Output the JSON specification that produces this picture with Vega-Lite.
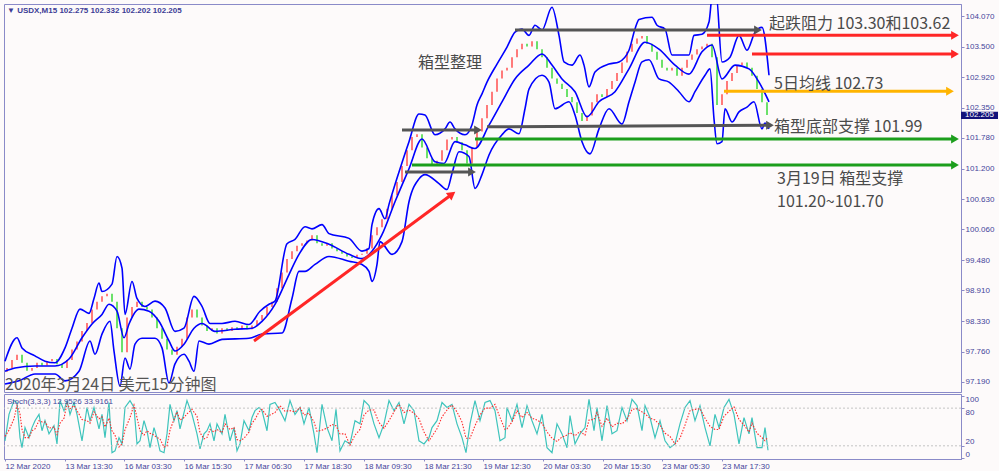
{
"$schema":"https://vega.github.io/schema/vega-lite/v6.json",
"background":"#fdfafa",
"padding":{"left":2,"top":3,"right":0,"bottom":0},
"spacing":2,
"bounds":"flush",
"config":{"view":{"stroke":"#8a8ac8","strokeWidth":1},"axis":{"labelFont":"Liberation Sans","labelFontSize":8,"labelColor":"#44449a","tickColor":"#8a8ac8","domainColor":"#8a8ac8","grid":false}},
"datasets":{
"candles":[{"b":5,"o":97.38,"c":97.45},{"b":10,"o":97.45,"c":97.6},{"b":15,"o":97.6,"c":97.7},{"b":20,"o":97.7,"c":97.55},{"b":25,"o":97.55,"c":97.4},{"b":30,"o":97.4,"c":97.45},{"b":35,"o":97.45,"c":97.55},{"b":40,"o":97.55,"c":97.5},{"b":45,"o":97.5,"c":97.58},{"b":50,"o":97.58,"c":97.62},{"b":55,"o":97.62,"c":97.52},{"b":60,"o":97.52,"c":97.45},{"b":65,"o":97.45,"c":97.6},{"b":70,"o":97.6,"c":97.8},{"b":75,"o":97.8,"c":97.95},{"b":80,"o":97.95,"c":98.15},{"b":85,"o":98.15,"c":98.3},{"b":90,"o":98.3,"c":98.55},{"b":95,"o":98.55,"c":98.7},{"b":100,"o":98.7,"c":98.8},{"b":105,"o":98.8,"c":98.85},{"b":110,"o":98.85,"c":98.7},{"b":115,"o":98.7,"c":98.2},{"b":120,"o":98.2,"c":97.75},{"b":125,"o":97.75,"c":98.4},{"b":130,"o":98.4,"c":98.6},{"b":135,"o":98.6,"c":98.7},{"b":140,"o":98.7,"c":98.6},{"b":145,"o":98.6,"c":98.55},{"b":150,"o":98.55,"c":98.4},{"b":155,"o":98.4,"c":98.2},{"b":160,"o":98.2,"c":98.0},{"b":165,"o":98.0,"c":97.8},{"b":170,"o":97.8,"c":97.7},{"b":175,"o":97.7,"c":97.85},{"b":180,"o":97.85,"c":98.0},{"b":185,"o":98.0,"c":98.4},{"b":190,"o":98.4,"c":98.55},{"b":195,"o":98.55,"c":98.4},{"b":200,"o":98.4,"c":98.25},{"b":205,"o":98.25,"c":98.15},{"b":210,"o":98.15,"c":98.2},{"b":215,"o":98.2,"c":98.1},{"b":220,"o":98.1,"c":98.2},{"b":225,"o":98.2,"c":98.15},{"b":230,"o":98.15,"c":98.22},{"b":235,"o":98.22,"c":98.18},{"b":240,"o":98.18,"c":98.25},{"b":245,"o":98.25,"c":98.18},{"b":250,"o":98.18,"c":98.25},{"b":255,"o":98.25,"c":98.35},{"b":260,"o":98.35,"c":98.45},{"b":265,"o":98.45,"c":98.6},{"b":270,"o":98.6,"c":98.7},{"b":275,"o":98.7,"c":98.95},{"b":280,"o":98.95,"c":99.25},{"b":285,"o":99.25,"c":99.5},{"b":290,"o":99.5,"c":99.65},{"b":295,"o":99.65,"c":99.75},{"b":300,"o":99.75,"c":99.8},{"b":305,"o":99.8,"c":99.85},{"b":310,"o":99.85,"c":99.95},{"b":315,"o":99.95,"c":99.8},{"b":320,"o":99.8,"c":99.75},{"b":325,"o":99.75,"c":99.8},{"b":330,"o":99.8,"c":99.7},{"b":335,"o":99.7,"c":99.65},{"b":340,"o":99.65,"c":99.6},{"b":345,"o":99.6,"c":99.55},{"b":350,"o":99.55,"c":99.52},{"b":355,"o":99.52,"c":99.58},{"b":360,"o":99.58,"c":99.6},{"b":365,"o":99.6,"c":99.7},{"b":370,"o":99.7,"c":99.95},{"b":375,"o":99.95,"c":100.1},{"b":380,"o":100.1,"c":100.25},{"b":385,"o":100.25,"c":100.45},{"b":390,"o":100.45,"c":100.7},{"b":395,"o":100.7,"c":100.95},{"b":400,"o":100.95,"c":101.25},{"b":405,"o":101.25,"c":101.55},{"b":410,"o":101.55,"c":101.8},{"b":415,"o":101.8,"c":101.85},{"b":420,"o":101.85,"c":101.6},{"b":425,"o":101.6,"c":101.4},{"b":430,"o":101.4,"c":101.25},{"b":435,"o":101.25,"c":101.35},{"b":440,"o":101.35,"c":101.55},{"b":445,"o":101.55,"c":101.75},{"b":450,"o":101.75,"c":101.8},{"b":455,"o":101.8,"c":101.7},{"b":460,"o":101.7,"c":101.55},{"b":465,"o":101.55,"c":101.3},{"b":470,"o":101.3,"c":101.6},{"b":475,"o":101.6,"c":101.9},{"b":480,"o":101.9,"c":102.15},{"b":485,"o":102.15,"c":102.4},{"b":490,"o":102.4,"c":102.65},{"b":495,"o":102.65,"c":102.9},{"b":500,"o":102.9,"c":103.05},{"b":505,"o":103.05,"c":103.1},{"b":510,"o":103.1,"c":103.3},{"b":515,"o":103.3,"c":103.45},{"b":520,"o":103.45,"c":103.55},{"b":525,"o":103.55,"c":103.5},{"b":530,"o":103.5,"c":103.6},{"b":535,"o":103.6,"c":103.45},{"b":540,"o":103.45,"c":103.3},{"b":545,"o":103.3,"c":103.1},{"b":550,"o":103.1,"c":102.9},{"b":555,"o":102.9,"c":102.8},{"b":560,"o":102.8,"c":102.7},{"b":565,"o":102.7,"c":102.55},{"b":570,"o":102.55,"c":102.45},{"b":575,"o":102.45,"c":102.25},{"b":580,"o":102.25,"c":102.1},{"b":585,"o":102.1,"c":102.2},{"b":590,"o":102.2,"c":102.45},{"b":595,"o":102.45,"c":102.6},{"b":600,"o":102.6,"c":102.55},{"b":605,"o":102.55,"c":102.7},{"b":610,"o":102.7,"c":102.85},{"b":615,"o":102.85,"c":103.0},{"b":620,"o":103.0,"c":103.2},{"b":625,"o":103.2,"c":103.4},{"b":630,"o":103.4,"c":103.55},{"b":635,"o":103.55,"c":103.65},{"b":640,"o":103.65,"c":103.7},{"b":645,"o":103.7,"c":103.55},{"b":650,"o":103.55,"c":103.4},{"b":655,"o":103.4,"c":103.25},{"b":660,"o":103.25,"c":103.1},{"b":665,"o":103.1,"c":103.05},{"b":670,"o":103.05,"c":103.1},{"b":675,"o":103.1,"c":102.95},{"b":680,"o":102.95,"c":103.1},{"b":685,"o":103.1,"c":103.25},{"b":690,"o":103.25,"c":103.35},{"b":695,"o":103.35,"c":103.45},{"b":700,"o":103.45,"c":103.5},{"b":705,"o":103.5,"c":103.55},{"b":710,"o":103.55,"c":103.3},{"b":715,"o":103.3,"c":102.4},{"b":720,"o":102.4,"c":102.6},{"b":725,"o":102.6,"c":102.85},{"b":730,"o":102.85,"c":103.0},{"b":735,"o":103.0,"c":103.15},{"b":740,"o":103.15,"c":103.2},{"b":745,"o":103.2,"c":103.1},{"b":750,"o":103.1,"c":102.95},{"b":755,"o":102.95,"c":102.7},{"b":760,"o":102.7,"c":102.45},{"b":765,"o":102.45,"c":102.21}],
"ub":[{"b":3,"p":97.58},{"b":15,"p":98.02},{"b":20,"p":97.83},{"b":33,"p":97.68},{"b":43,"p":97.58},{"b":53,"p":97.55},{"b":63,"p":97.83},{"b":70,"p":98.2},{"b":78,"p":98.56},{"b":87,"p":98.48},{"b":92,"p":98.76},{"b":97,"p":99.05},{"b":100,"p":98.89},{"b":110,"p":99.03},{"b":115,"p":99.55},{"b":120,"p":99.33},{"b":123,"p":98.46},{"b":130,"p":99.08},{"b":135,"p":98.76},{"b":143,"p":98.61},{"b":153,"p":98.71},{"b":163,"p":98.58},{"b":173,"p":98.14},{"b":182,"p":98.2},{"b":192,"p":98.8},{"b":200,"p":98.61},{"b":208,"p":98.29},{"b":220,"p":98.29},{"b":233,"p":98.33},{"b":247,"p":98.27},{"b":258,"p":98.52},{"b":267,"p":98.65},{"b":273,"p":98.71},{"b":285,"p":99.79},{"b":293,"p":99.87},{"b":303,"p":100.11},{"b":310,"p":100.07},{"b":320,"p":100.15},{"b":327,"p":99.98},{"b":347,"p":99.89},{"b":360,"p":99.65},{"b":367,"p":99.7},{"b":370,"p":100.15},{"b":377,"p":100.45},{"b":383,"p":100.26},{"b":387,"p":100.53},{"b":397,"p":101.14},{"b":407,"p":101.71},{"b":417,"p":102.23},{"b":423,"p":102.21},{"b":433,"p":101.84},{"b":443,"p":101.95},{"b":448,"p":102.08},{"b":453,"p":101.95},{"b":463,"p":101.84},{"b":470,"p":102.03},{"b":475,"p":102.4},{"b":480,"p":102.61},{"b":485,"p":102.83},{"b":495,"p":103.17},{"b":505,"p":103.49},{"b":513,"p":103.77},{"b":520,"p":103.83},{"b":527,"p":103.71},{"b":533,"p":103.9},{"b":540,"p":103.81},{"b":550,"p":104.24},{"b":557,"p":103.71},{"b":562,"p":103.21},{"b":570,"p":103.15},{"b":578,"p":103.34},{"b":582,"p":103.15},{"b":587,"p":102.74},{"b":593,"p":103.02},{"b":607,"p":103.17},{"b":617,"p":103.21},{"b":627,"p":103.43},{"b":633,"p":103.83},{"b":637,"p":104.01},{"b":650,"p":104.05},{"b":655,"p":103.9},{"b":663,"p":103.83},{"b":670,"p":103.34},{"b":687,"p":103.34},{"b":692,"p":103.71},{"b":700,"p":103.73},{"b":707,"p":103.96},{"b":710,"p":104.43},{"b":714,"p":104.52},{"b":720,"p":103.21},{"b":728,"p":103.3},{"b":737,"p":103.71},{"b":745,"p":103.43},{"b":753,"p":103.77},{"b":760,"p":103.86},{"b":767,"p":102.96}],
"mb":[{"b":3,"p":97.39},{"b":13,"p":97.45},{"b":33,"p":97.49},{"b":53,"p":97.49},{"b":67,"p":97.62},{"b":80,"p":98.02},{"b":90,"p":98.28},{"b":100,"p":98.46},{"b":107,"p":98.65},{"b":115,"p":98.52},{"b":122,"p":98.02},{"b":127,"p":98.28},{"b":137,"p":98.56},{"b":147,"p":98.52},{"b":157,"p":98.33},{"b":167,"p":97.96},{"b":173,"p":97.77},{"b":182,"p":97.9},{"b":192,"p":98.2},{"b":200,"p":98.29},{"b":213,"p":98.14},{"b":233,"p":98.18},{"b":250,"p":98.2},{"b":260,"p":98.33},{"b":273,"p":98.65},{"b":287,"p":99.21},{"b":297,"p":99.59},{"b":310,"p":99.87},{"b":327,"p":99.78},{"b":347,"p":99.59},{"b":360,"p":99.51},{"b":370,"p":99.65},{"b":380,"p":99.96},{"b":393,"p":100.58},{"b":407,"p":101.2},{"b":420,"p":101.76},{"b":433,"p":101.33},{"b":442,"p":101.3},{"b":453,"p":101.71},{"b":463,"p":101.65},{"b":473,"p":101.58},{"b":487,"p":102.02},{"b":500,"p":102.46},{"b":513,"p":102.89},{"b":527,"p":103.15},{"b":540,"p":103.36},{"b":550,"p":103.15},{"b":560,"p":102.89},{"b":573,"p":102.65},{"b":585,"p":102.18},{"b":597,"p":102.46},{"b":613,"p":102.65},{"b":627,"p":103.08},{"b":643,"p":103.58},{"b":657,"p":103.45},{"b":673,"p":103.15},{"b":687,"p":102.98},{"b":700,"p":103.4},{"b":710,"p":103.53},{"b":720,"p":102.89},{"b":733,"p":103.15},{"b":747,"p":103.08},{"b":757,"p":102.83},{"b":767,"p":102.46}],
"lb":[{"b":3,"p":97.15},{"b":17,"p":97.21},{"b":33,"p":97.34},{"b":53,"p":97.34},{"b":63,"p":97.21},{"b":77,"p":97.39},{"b":88,"p":97.96},{"b":93,"p":97.71},{"b":100,"p":98.09},{"b":108,"p":98.33},{"b":112,"p":97.77},{"b":118,"p":97.11},{"b":123,"p":97.64},{"b":128,"p":97.43},{"b":133,"p":97.9},{"b":140,"p":98.01},{"b":153,"p":98.01},{"b":160,"p":97.83},{"b":167,"p":97.17},{"b":173,"p":97.53},{"b":182,"p":97.71},{"b":187,"p":97.58},{"b":192,"p":97.39},{"b":197,"p":97.96},{"b":207,"p":97.9},{"b":220,"p":97.99},{"b":247,"p":98.01},{"b":260,"p":98.09},{"b":280,"p":98.11},{"b":290,"p":98.76},{"b":297,"p":99.27},{"b":303,"p":99.27},{"b":313,"p":99.4},{"b":327,"p":99.55},{"b":347,"p":99.46},{"b":360,"p":99.4},{"b":367,"p":99.27},{"b":370,"p":99.08},{"b":375,"p":99.4},{"b":378,"p":99.83},{"b":390,"p":99.59},{"b":400,"p":99.83},{"b":407,"p":100.58},{"b":417,"p":101.01},{"b":423,"p":101.09},{"b":437,"p":100.92},{"b":445,"p":100.81},{"b":450,"p":101.11},{"b":457,"p":101.52},{"b":467,"p":101.43},{"b":473,"p":100.83},{"b":480,"p":101.09},{"b":487,"p":101.46},{"b":500,"p":101.84},{"b":507,"p":101.95},{"b":517,"p":101.86},{"b":523,"p":102.33},{"b":527,"p":102.7},{"b":540,"p":102.96},{"b":547,"p":102.83},{"b":553,"p":102.33},{"b":567,"p":102.46},{"b":573,"p":102.21},{"b":580,"p":101.71},{"b":588,"p":101.48},{"b":597,"p":101.95},{"b":607,"p":102.33},{"b":620,"p":102.04},{"b":627,"p":102.46},{"b":633,"p":102.83},{"b":640,"p":103.21},{"b":647,"p":103.25},{"b":657,"p":102.89},{"b":667,"p":102.83},{"b":677,"p":102.65},{"b":687,"p":102.46},{"b":693,"p":102.65},{"b":703,"p":102.96},{"b":708,"p":103.08},{"b":712,"p":102.14},{"b":715,"p":101.67},{"b":720,"p":101.71},{"b":723,"p":102.33},{"b":730,"p":102.08},{"b":737,"p":102.27},{"b":745,"p":102.36},{"b":752,"p":102.46},{"b":760,"p":101.95},{"b":763,"p":102.06},{"b":767,"p":101.95}],
"arrows":[{"kind":"box","b1":513,"p1":103.81,"b2":756,"p2":103.81},{"kind":"box","b1":400,"p1":101.93,"b2":476,"p2":101.93},{"kind":"box","b1":485,"p1":101.99,"b2":768,"p2":102.02},{"kind":"box","b1":403,"p1":101.14,"b2":470,"p2":101.14},{"kind":"support","b1":473,"p1":101.76,"b2":953,"p2":101.76},{"kind":"support","b1":410,"p1":101.27,"b2":953,"p2":101.27},{"kind":"resistance","b1":705,"p1":103.71,"b2":953,"p2":103.71},{"kind":"resistance","b1":750,"p1":103.36,"b2":953,"p2":103.36},{"kind":"ma5","b1":722,"p1":102.66,"b2":948,"p2":102.66},{"kind":"trend","b1":252,"p1":97.96,"b2":450,"p2":100.72}],
"notes":[{"kind":"note","b":416,"p":103.19,"text":"箱型整理"},{"kind":"note","b":767,"p":103.92,"text":"起跌阻力 103.30和103.62"},{"kind":"note","b":772,"p":102.79,"text":"5日均线 102.73"},{"kind":"note","b":772,"p":101.99,"text":"箱型底部支撑 101.99"},{"kind":"note","b":775,"p":101.01,"text":"3月19日 箱型支撑"},{"kind":"note","b":775,"p":100.58,"text":"101.20~101.70"},{"kind":"title","b":3,"p":97.13,"text":"2020年3月24日 美元15分钟图"},{"kind":"header","b":5,"p":104.16,"text":"▼ USDX,M15  102.275 102.332 102.202 102.205"}],
"stoch":[{"b":3,"k":28,"d":35},{"b":7,"k":70,"d":45},{"b":12,"k":92,"d":63},{"b":15,"k":89,"d":84},{"b":18,"k":33,"d":71},{"b":20,"k":17,"d":46},{"b":23,"k":49,"d":33},{"b":27,"k":33,"d":33},{"b":30,"k":49,"d":44},{"b":33,"k":60,"d":47},{"b":37,"k":70,"d":60},{"b":40,"k":44,"d":58},{"b":43,"k":60,"d":58},{"b":47,"k":39,"d":48},{"b":52,"k":52,"d":50},{"b":55,"k":23,"d":38},{"b":58,"k":92,"d":56},{"b":62,"k":76,"d":64},{"b":65,"k":92,"d":87},{"b":68,"k":70,"d":79},{"b":72,"k":89,"d":84},{"b":75,"k":70,"d":76},{"b":80,"k":28,"d":62},{"b":85,"k":81,"d":60},{"b":88,"k":60,"d":56},{"b":92,"k":81,"d":74},{"b":97,"k":47,"d":63},{"b":100,"k":70,"d":66},{"b":103,"k":33,"d":50},{"b":107,"k":89,"d":64},{"b":110,"k":9,"d":44},{"b":113,"k":12,"d":37},{"b":117,"k":33,"d":18},{"b":120,"k":23,"d":23},{"b":123,"k":81,"d":46},{"b":128,"k":92,"d":65},{"b":132,"k":81,"d":85},{"b":135,"k":23,"d":65},{"b":138,"k":28,"d":44},{"b":142,"k":60,"d":37},{"b":145,"k":44,"d":44},{"b":148,"k":17,"d":40},{"b":152,"k":49,"d":37},{"b":155,"k":33,"d":33},{"b":158,"k":12,"d":31},{"b":162,"k":9,"d":18},{"b":165,"k":39,"d":20},{"b":168,"k":86,"d":45},{"b":172,"k":60,"d":62},{"b":175,"k":76,"d":74},{"b":178,"k":47,"d":61},{"b":182,"k":73,"d":65},{"b":185,"k":92,"d":71},{"b":190,"k":70,"d":78},{"b":195,"k":39,"d":67},{"b":198,"k":15,"d":41},{"b":202,"k":39,"d":31},{"b":205,"k":44,"d":33},{"b":208,"k":55,"d":46},{"b":212,"k":28,"d":42},{"b":215,"k":55,"d":46},{"b":220,"k":39,"d":41},{"b":223,"k":70,"d":55},{"b":228,"k":28,"d":46},{"b":232,"k":49,"d":49},{"b":235,"k":12,"d":30},{"b":238,"k":23,"d":28},{"b":242,"k":60,"d":32},{"b":247,"k":44,"d":42},{"b":250,"k":65,"d":56},{"b":253,"k":76,"d":62},{"b":257,"k":81,"d":74},{"b":260,"k":76,"d":78},{"b":265,"k":44,"d":67},{"b":268,"k":86,"d":69},{"b":273,"k":89,"d":73},{"b":278,"k":76,"d":84},{"b":283,"k":60,"d":75},{"b":288,"k":92,"d":76},{"b":293,"k":70,"d":74},{"b":298,"k":81,"d":81},{"b":302,"k":55,"d":69},{"b":307,"k":81,"d":72},{"b":312,"k":39,"d":58},{"b":315,"k":9,"d":43},{"b":320,"k":86,"d":45},{"b":325,"k":49,"d":48},{"b":330,"k":28,"d":54},{"b":334,"k":78,"d":52},{"b":338,"k":12,"d":39},{"b":343,"k":28,"d":39},{"b":348,"k":23,"d":21},{"b":353,"k":60,"d":37},{"b":358,"k":55,"d":46},{"b":362,"k":92,"d":69},{"b":367,"k":84,"d":77},{"b":372,"k":55,"d":77},{"b":377,"k":33,"d":57},{"b":382,"k":55,"d":48},{"b":387,"k":92,"d":60},{"b":392,"k":76,"d":74},{"b":397,"k":89,"d":86},{"b":402,"k":55,"d":73},{"b":407,"k":86,"d":77},{"b":412,"k":76,"d":72},{"b":417,"k":28,"d":63},{"b":422,"k":23,"d":42},{"b":427,"k":33,"d":28},{"b":430,"k":49,"d":35},{"b":435,"k":60,"d":47},{"b":440,"k":89,"d":66},{"b":445,"k":81,"d":77},{"b":450,"k":86,"d":85},{"b":455,"k":55,"d":74},{"b":460,"k":33,"d":58},{"b":464,"k":9,"d":32},{"b":468,"k":55,"d":32},{"b":473,"k":92,"d":52},{"b":478,"k":60,"d":69},{"b":483,"k":89,"d":80},{"b":488,"k":92,"d":80},{"b":493,"k":76,"d":86},{"b":498,"k":28,"d":65},{"b":503,"k":33,"d":46},{"b":505,"k":81,"d":47},{"b":510,"k":60,"d":58},{"b":515,"k":86,"d":76},{"b":520,"k":49,"d":65},{"b":525,"k":84,"d":73},{"b":530,"k":60,"d":64},{"b":535,"k":39,"d":61},{"b":540,"k":70,"d":56},{"b":545,"k":17,"d":42},{"b":550,"k":9,"d":32},{"b":555,"k":55,"d":27},{"b":560,"k":39,"d":34},{"b":565,"k":17,"d":37},{"b":568,"k":68,"d":41},{"b":573,"k":23,"d":36},{"b":578,"k":39,"d":43},{"b":583,"k":49,"d":37},{"b":587,"k":94,"d":61},{"b":592,"k":44,"d":62},{"b":595,"k":81,"d":73},{"b":600,"k":28,"d":51},{"b":605,"k":84,"d":64},{"b":610,"k":39,"d":50},{"b":615,"k":44,"d":56},{"b":620,"k":81,"d":55},{"b":625,"k":60,"d":62},{"b":630,"k":94,"d":78},{"b":635,"k":84,"d":79},{"b":640,"k":44,"d":74},{"b":643,"k":84,"d":71},{"b":648,"k":65,"d":64},{"b":653,"k":33,"d":61},{"b":658,"k":60,"d":53},{"b":663,"k":28,"d":40},{"b":668,"k":17,"d":35},{"b":673,"k":23,"d":23},{"b":678,"k":55,"d":32},{"b":683,"k":81,"d":53},{"b":688,"k":92,"d":76},{"b":693,"k":60,"d":78},{"b":698,"k":84,"d":79},{"b":703,"k":49,"d":64},{"b":708,"k":20,"d":51},{"b":713,"k":70,"d":46},{"b":717,"k":49,"d":46},{"b":722,"k":81,"d":67},{"b":727,"k":94,"d":75},{"b":732,"k":70,"d":82},{"b":737,"k":23,"d":62},{"b":742,"k":65,"d":53},{"b":747,"k":39,"d":42},{"b":750,"k":65,"d":56},{"b":755,"k":17,"d":40},{"b":760,"k":17,"d":33},{"b":763,"k":49,"d":28},{"b":766,"k":12.95,"d":33.92}]
},
"vconcat":[
{"width":957,"height":388,
"resolve":{"axis":{"x":"independent","y":"independent"}},
"layer":[
{"data":{"name":"candles"},"mark":{"type":"rule","strokeWidth":2,"opacity":0.75},
 "encoding":{"x":{"field":"b","type":"quantitative","scale":{"domain":[2,959],"nice":false,"zero":false},"axis":null},
 "y":{"field":"o","type":"quantitative","scale":{"domain":[97.0,104.3],"nice":false,"zero":false},"axis":{"orient":"right","title":null,"values":[104.07,103.5,102.92,102.35,101.78,101.2,100.63,100.06,99.48,98.91,98.33,97.76,97.19],"format":".3f","tickSize":3,"labelPadding":1,"labelBaseline":"middle"}},
 "y2":{"field":"c"},
 "color":{"condition":{"test":"datum.c >= datum.o","value":"#ff4f4f"},"value":"#3ad83a"}}},
{"data":{"name":"ub"},"mark":{"type":"line","color":"#0000ff","strokeWidth":1.6,"clip":true,"interpolate":"monotone"},"encoding":{"x":{"field":"b","type":"quantitative","axis":null},"y":{"field":"p","type":"quantitative","axis":null}}},
{"data":{"name":"mb"},"mark":{"type":"line","color":"#0000ff","strokeWidth":1.6,"clip":true,"interpolate":"monotone"},"encoding":{"x":{"field":"b","type":"quantitative","axis":null},"y":{"field":"p","type":"quantitative","axis":null}}},
{"data":{"name":"lb"},"mark":{"type":"line","color":"#0000ff","strokeWidth":1.6,"clip":true,"interpolate":"monotone"},"encoding":{"x":{"field":"b","type":"quantitative","axis":null},"y":{"field":"p","type":"quantitative","axis":null}}},
{"mark":{"type":"rule","color":"#9a9ac4","strokeWidth":1},"encoding":{"y":{"datum":102.205,"type":"quantitative","axis":null}}},
{"data":{"name":"arrows"},"mark":{"type":"rule","strokeWidth":3,"strokeCap":"butt"},
 "encoding":{"x":{"field":"b1","type":"quantitative","axis":null},"x2":{"field":"b2"},"y":{"field":"p1","type":"quantitative","axis":null},"y2":{"field":"p2"},
 "color":{"field":"kind","type":"nominal","scale":{"domain":["box","support","resistance","ma5","trend"],"range":["#555555","#1c9e1c","#ff2626","#ffb400","#ff2626"]},"legend":null}}},
{"data":{"name":"arrows"},"transform":[{"filter":"datum.kind != 'trend'"}],"mark":{"type":"point","shape":"triangle-right","size":80,"filled":true,"opacity":1},
 "encoding":{"x":{"field":"b2","type":"quantitative","axis":null},"y":{"field":"p2","type":"quantitative","axis":null},"color":{"field":"kind","type":"nominal","legend":null}}},
{"data":{"name":"arrows"},"transform":[{"filter":"datum.kind == 'trend'"}],"mark":{"type":"point","shape":"triangle-right","size":90,"filled":true,"opacity":1,"angle":323.5},
 "encoding":{"x":{"field":"b2","type":"quantitative","axis":null},"y":{"field":"p2","type":"quantitative","axis":null},"color":{"field":"kind","type":"nominal","legend":null}}},
{"data":{"name":"notes"},"transform":[{"filter":"datum.kind == 'note'"}],"mark":{"type":"text","font":"Noto Sans CJK SC","fontSize":16,"color":"#4a4a4a","align":"left","baseline":"middle"},
 "encoding":{"x":{"field":"b","type":"quantitative","axis":null},"y":{"field":"p","type":"quantitative","axis":null},"text":{"field":"text"}}},
{"data":{"name":"notes"},"transform":[{"filter":"datum.kind == 'title'"}],"mark":{"type":"text","font":"Noto Sans CJK SC","fontSize":16,"color":"#555555","align":"left","baseline":"middle"},
 "encoding":{"x":{"field":"b","type":"quantitative","axis":null},"y":{"field":"p","type":"quantitative","axis":null},"text":{"field":"text"}}},
{"data":{"name":"notes"},"transform":[{"filter":"datum.kind == 'header'"}],"mark":{"type":"text","font":"Liberation Sans","fontSize":8,"fontWeight":"bold","color":"#3c3c96","align":"left","baseline":"middle"},
 "encoding":{"x":{"field":"b","type":"quantitative","axis":null},"y":{"field":"p","type":"quantitative","axis":null},"text":{"field":"text"}}},
{"data":{"values":[{"b1":959,"b2":996,"p1":102.275,"p2":102.135}]},"mark":{"type":"rect","color":"#12127a"},
 "encoding":{"x":{"field":"b1","type":"quantitative","axis":null},"x2":{"field":"b2"},"y":{"field":"p1","type":"quantitative","axis":null},"y2":{"field":"p2"}}},
{"data":{"values":[{"b":963,"p":102.205,"label":"102.205"}]},"mark":{"type":"text","font":"Liberation Sans","fontSize":8,"color":"#ffffff","align":"left","baseline":"middle"},
 "encoding":{"x":{"field":"b","type":"quantitative","axis":null},"y":{"field":"p","type":"quantitative","axis":null},"text":{"field":"label"}}}
]},
{"width":957,"height":65,
"resolve":{"axis":{"x":"independent","y":"independent"}},
"layer":[
{"data":{"name":"stoch"},"mark":{"type":"line","color":"#3fc4bc","strokeWidth":1.2},
 "encoding":{"x":{"field":"b","type":"quantitative","scale":{"domain":[2,959],"nice":false,"zero":false},
  "axis":{"orient":"bottom","title":null,"values":[3,63,122,182,242,302,362,422,481,541,601,660,720],"labelExpr":"['12 Mar 2020','13 Mar 13:30','16 Mar 03:30','16 Mar 15:30','17 Mar 06:30','17 Mar 18:30','18 Mar 09:30','18 Mar 21:30','19 Mar 12:30','20 Mar 03:30','20 Mar 15:30','23 Mar 05:30','23 Mar 17:30'][indexof([3,63,122,182,242,302,362,422,481,541,601,660,720], datum.value)]","labelAlign":"left","labelFlush":false,"labelOverlap":false,"tickSize":2,"labelPadding":1}},
 "y":{"field":"k","type":"quantitative","scale":{"domain":[-1,102.5],"nice":false,"zero":false},"axis":{"orient":"right","title":null,"values":[100,80,20,0],"tickSize":3,"labelPadding":1,"labelBaseline":{"condition":{"test":"datum.value > 50","value":"top"},"value":"bottom"}}}}},
{"data":{"values":[{"lv":20},{"lv":80}]},"mark":{"type":"rule","color":"#c4c4c4","strokeDash":[2,2],"strokeWidth":1},"encoding":{"y":{"field":"lv","type":"quantitative","axis":null}}},
{"data":{"name":"stoch"},"mark":{"type":"line","color":"#ff2a2a","strokeWidth":1.1,"strokeDash":[1.5,1.5]},
 "encoding":{"x":{"field":"b","type":"quantitative","axis":null},"y":{"field":"d","type":"quantitative","axis":null}}},
{"data":{"values":[{"b":5,"v":90,"text":"Stoch(3,3,3) 12.9526 33.9161"}]},"mark":{"type":"text","font":"Liberation Sans","fontSize":8,"color":"#44449a","align":"left","baseline":"middle"},
 "encoding":{"x":{"field":"b","type":"quantitative","axis":null},"y":{"field":"v","type":"quantitative","axis":null},"text":{"field":"text"}}}
]}
]
}
